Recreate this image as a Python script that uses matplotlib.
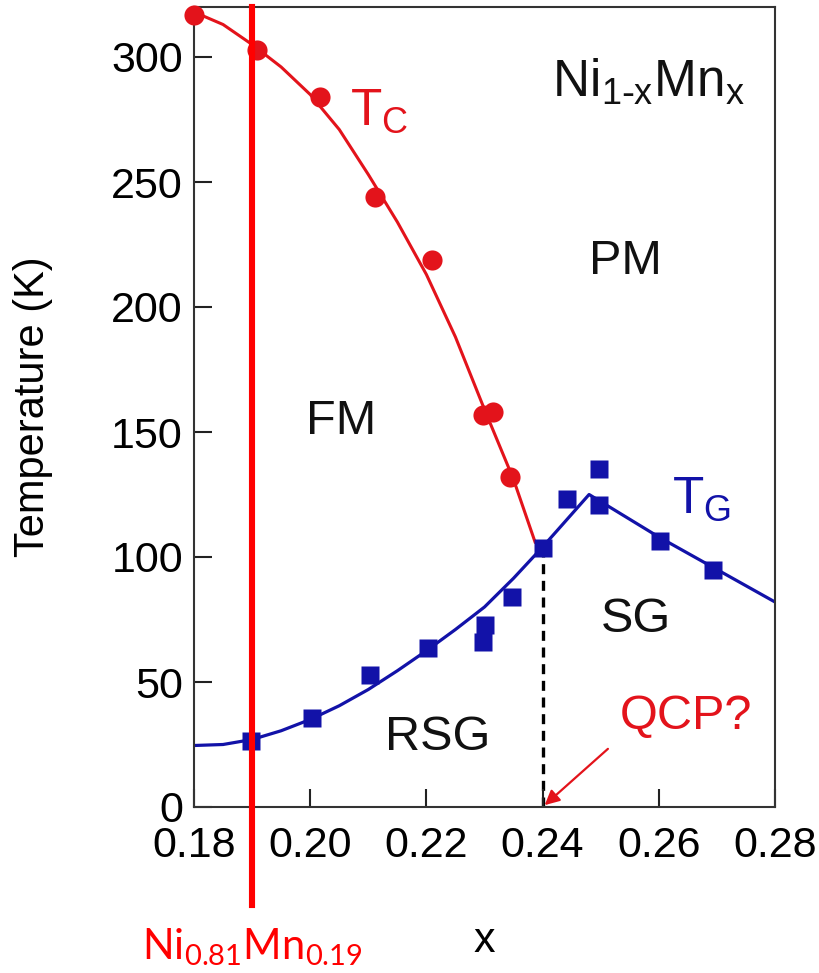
import matplotlib
matplotlib.use("Agg")
import matplotlib.pyplot as plt
from matplotlib.transforms import blended_transform_factory

plt.rcParams['font.family'] = ['Liberation Sans', 'DejaVu Sans']

# T_C data (red circles) and fitted curve
tc_x = [0.180, 0.1908, 0.2017, 0.2112, 0.2210, 0.2297, 0.2315, 0.2344]
tc_y = [317, 303, 284, 244, 219, 157, 158, 132]
tc_fit_x = [0.180, 0.185, 0.190, 0.195, 0.200, 0.205, 0.210, 0.215, 0.220, 0.225, 0.230, 0.235, 0.2387]
tc_fit_y = [318, 313, 305, 296, 285, 271, 253, 234, 213, 188, 159, 131, 106]

# T_G data (blue squares) and fitted curve
tg_x = [0.1898, 0.2003, 0.2103, 0.2203, 0.2298, 0.2301, 0.2347, 0.2401, 0.2442, 0.2497, 0.2497, 0.2602, 0.2693]
tg_y = [26.5, 35.6, 53, 63.6, 66, 73, 84, 103.6, 123.2, 135.2, 120.8, 106.4, 94.8]
tg_fit_x = [0.180, 0.185, 0.190, 0.195, 0.200, 0.205, 0.210, 0.215, 0.220, 0.225, 0.230, 0.235, 0.240, 0.248, 0.260, 0.270, 0.280]
tg_fit_y = [24.6, 25, 27, 30.5, 35, 40.5, 47, 54.5, 62.5, 71, 80, 91.5, 104, 125, 108, 95, 82]

x_ticks = [0.18, 0.20, 0.22, 0.24, 0.26, 0.28]
y_ticks = [0, 50, 100, 150, 200, 250, 300]
qcp_x = 0.24
qcp_top = 104
sample_x = 0.19

red = '#e3131b'
blue = '#1212a8'

fig = plt.figure(figsize=(8.19, 9.73), dpi=100)
ax = fig.add_axes([194/819, (973-807)/973, 581/819, 800/973])

ax.plot(tc_fit_x, tc_fit_y, color=red, lw=2.2, zorder=2)
ax.plot(tc_x, tc_y, 'o', color=red, ms=14.5, mec='none', zorder=3, clip_on=False)
ax.plot(tg_fit_x, tg_fit_y, color=blue, lw=2.3, zorder=2)
ax.plot(tg_x, tg_y, 's', color=blue, ms=13.5, mec='none', zorder=3, clip_on=False)

# dashed line down to the QCP
ax.plot([qcp_x, qcp_x], [0, qcp_top], color='black', lw=2.4, ls=(0, (3, 2)), zorder=1)

ax.set_xlim(0.18, 0.28)
ax.set_ylim(0, 320)
ax.set_xticks(x_ticks)
ax.set_xticklabels([f'{v:.2f}' for v in x_ticks])
ax.set_yticks(y_ticks)
ax.tick_params(direction='in', length=13, width=1.5, labelsize=31, color='#222222')
ax.tick_params(axis='x', pad=14)
ax.tick_params(axis='y', pad=8)
for s in ax.spines.values():
    s.set_linewidth(1.5)
    s.set_color('#333333')

ax.set_ylabel('Temperature (K)', fontsize=30, labelpad=42)
ax.set_xlabel('x', fontsize=31)
ax.xaxis.set_label_coords(0.5, -0.181)
ax.xaxis.label.set_va('baseline')

# phase labels
ax.text(0.2053, 154, 'FM', fontsize=35, ha='center', va='center', color='#111111')
ax.text(0.2542, 218, 'PM', fontsize=35, ha='center', va='center', color='#111111')
ax.text(0.2561, 75, 'SG', fontsize=35, ha='center', va='center', color='#111111')
ax.text(0.2220, 27.6, 'RSG', fontsize=35, ha='center', va='center', color='#111111')
ax.text(0.2416, 284, r'$\mathregular{Ni_{1\text{-}x}Mn_x}$', fontsize=37, ha='left', va='baseline', color='#111111')
ax.text(0.2068, 272.8, r'$\mathregular{T_C}$', fontsize=37, ha='left', va='baseline', color=red)
ax.text(0.2623, 117.6, r'$\mathregular{T_G}$', fontsize=37, ha='left', va='baseline', color=blue)
ax.text(0.2647, 36.4, 'QCP?', fontsize=35, ha='center', va='center', color=red)
ax.annotate('', xy=(qcp_x, 0), xytext=(0.2516, 24),
            arrowprops=dict(arrowstyle='-|>', color=red, lw=1.6, mutation_scale=22),
            annotation_clip=False)

# composition marker running below the axis
trans = blended_transform_factory(ax.transData, ax.transAxes)
ax.plot([sample_x, sample_x], [1.0, -0.1225], color='#ff0000', lw=4.4,
        transform=trans, clip_on=False, zorder=5)
ax.text(sample_x, -0.191, r'$\mathregular{Ni_{0.81}Mn_{0.19}}$', transform=trans,
        fontsize=30, fontfamily='Lato', color='#ff0000', ha='center', va='baseline')

fig.savefig('out.png', dpi=100)
